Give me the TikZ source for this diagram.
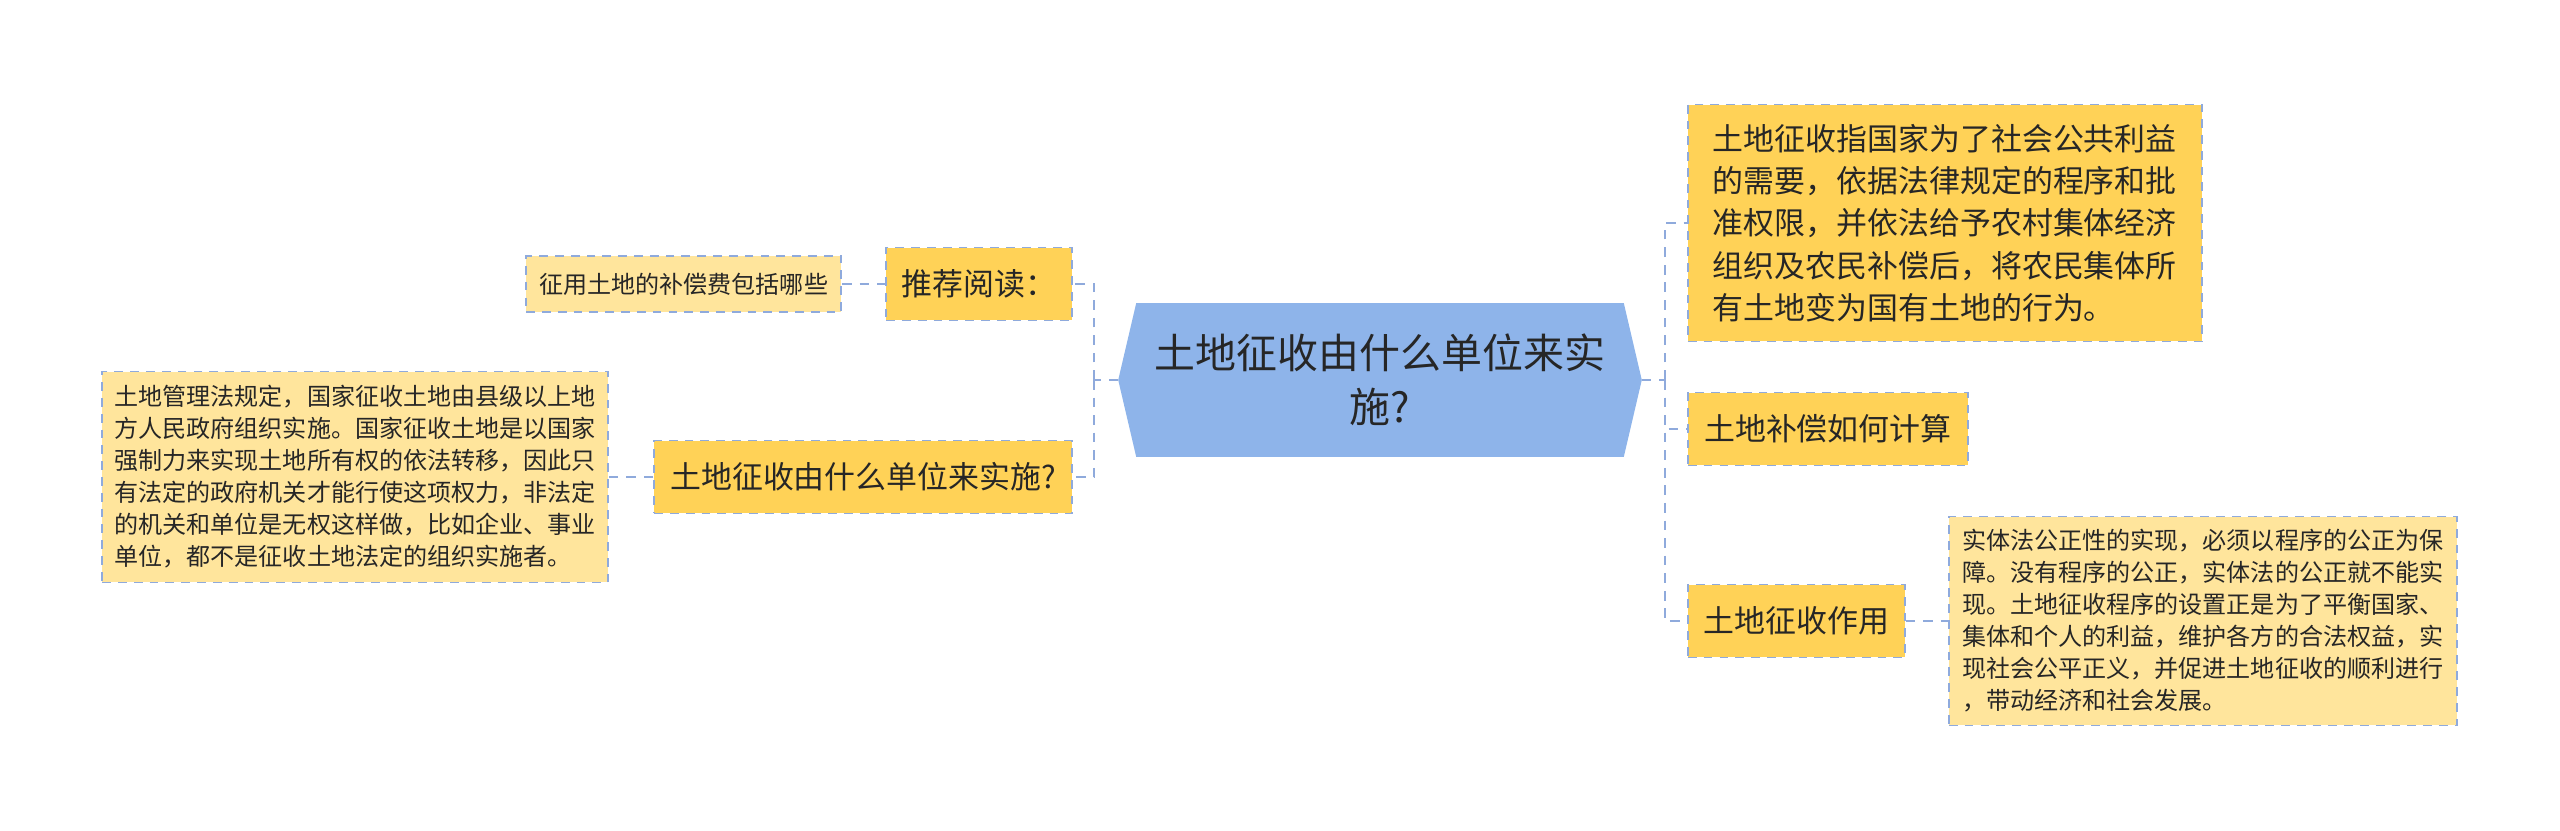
\documentclass[tikz,border=0pt]{standalone}
\usepackage{fontspec}
\setmainfont{Noto Sans CJK SC}
\usetikzlibrary{positioning,backgrounds}
\definecolor{rootBlue}{HTML}{8EB4EA}
\definecolor{topicOrange}{HTML}{FFD257}
\definecolor{noteOrange}{HTML}{FFE59C}
\definecolor{linkBlue}{HTML}{8FAADC}
\definecolor{inkGray}{HTML}{262626}

\begin{document}
\begin{tikzpicture}[x=0.02cm, y=-0.02cm,
    every node/.style={text=inkGray, inner sep=0pt},
    topic/.style={draw=linkBlue, dash pattern=on 5pt off 4pt, line width=1pt, fill=topicOrange, minimum height=1.46cm, font=\fontsize{17.6}{24}\selectfont},
    note/.style={draw=linkBlue, dash pattern=on 5pt off 4pt, line width=1pt, fill=noteOrange, align=left, font=\fontsize{13.7}{18.2}\selectfont},
    link/.style={linkBlue, line width=1.5pt, dash pattern=on 5.5pt off 4.5pt}]
    \useasboundingbox (0,0) rectangle (2560,831);
    % centre
    \node[minimum width=10.46cm, minimum height=3.06cm, align=center, font=\fontsize{23.3}{30.7}\selectfont] (root) at (1380,380) {土地征收由什么单位来实\\施?};
    \begin{scope}[on background layer]
        \fill[rootBlue] (root.west) -- ([xshift=0.36cm]root.north west) -- ([xshift=-0.36cm]root.north east) -- (root.east) -- ([xshift=-0.36cm]root.south east) -- ([xshift=0.36cm]root.south west) -- cycle;
    \end{scope}
    % left side
    \node[topic, minimum width=3.72cm, anchor=east] (read) at (1073,284) {推荐阅读：};
    \node[note, minimum width=6.3cm, minimum height=1.12cm, anchor=east] (readnote) at (842,284) {征用土地的补偿费包括哪些};
    \node[topic, minimum width=8.36cm, anchor=east] (who) at (1073,477) {土地征收由什么单位来实施?};
    \node[note, minimum width=10.12cm, minimum height=4.22cm, anchor=east] (whonote) at (609,477) {土地管理法规定，国家征收土地由县级以上地\\方人民政府组织实施。国家征收土地是以国家\\强制力来实现土地所有权的依法转移，因此只\\有法定的政府机关才能行使这项权力，非法定\\的机关和单位是无权这样做，比如企业、事业\\单位，都不是征收土地法定的组织实施者。};
    % right side
    \node[topic, align=left, minimum width=10.28cm, minimum height=4.74cm, anchor=west, font=\fontsize{17.6}{24.1}\selectfont] (what) at (1687,223) {土地征收指国家为了社会公共利益\\的需要，依据法律规定的程序和批\\准权限，并依法给予农村集体经济\\组织及农民补偿后，将农民集体所\\有土地变为国有土地的行为。};
    \node[topic, minimum width=5.6cm, anchor=west] (calc) at (1687,429) {土地补偿如何计算};
    \node[topic, minimum width=4.34cm, anchor=west] (use) at (1687,621) {土地征收作用};
    \node[note, minimum width=10.16cm, minimum height=4.18cm, anchor=west] (usenote) at (1948,621) {实体法公正性的实现，必须以程序的公正为保\\障。没有程序的公正，实体法的公正就不能实\\现。土地征收程序的设置正是为了平衡国家、\\集体和个人的利益，维护各方的合法权益，实\\现社会公平正义，并促进土地征收的顺利进行\\，带动经济和社会发展。};
    % connectors
    \coordinate (lspine) at (1094,380);
    \coordinate (rspine) at (1665,380);
    \draw[link] (root.west) -- (lspine);
    \draw[link] (lspine) |- (read.east);
    \draw[link] (lspine) |- (who.east);
    \draw[link] (readnote.east) -- (read.west);
    \draw[link] (who.west) -- (whonote.east);
    \draw[link] (root.east) -- (rspine);
    \draw[link] (rspine) |- (what.west);
    \draw[link] (rspine) |- (calc.west);
    \draw[link] (rspine) |- (use.west);
    \draw[link] (use.east) -- (usenote.west);
\end{tikzpicture}
\end{document}
